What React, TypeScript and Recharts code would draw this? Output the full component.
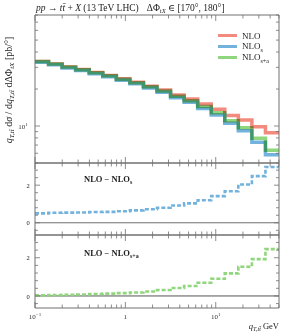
import React from "react";
import { LineChart, Line, XAxis, YAxis, ReferenceLine, Legend } from "recharts";

// bin edges in q_T (GeV), 18 log-uniform bins
const BIN_EDGES = [0.1, 0.1413, 0.1995, 0.2818, 0.3981, 0.5623, 0.7943, 1.122, 1.585, 2.239, 3.162, 4.467, 6.31, 8.913, 12.59, 17.78, 25.12, 35.48, 50.12];

const NLO = [33.5, 32.0, 30.2, 28.8, 27.2, 25.7, 24.2, 22.7, 21.1, 19.6, 17.9, 16.6, 15.1, 13.7, 12.2, 11.2, 9.87, 8.81];
const NLO_S = [33.0, 31.47, 29.66, 28.25, 26.63, 25.12, 23.59, 22.04, 20.38, 18.8, 16.98, 15.57, 13.9, 12.28, 10.52, 9.16, 7.39, 5.84];
const NLO_SA = [33.47, 31.95, 30.14, 28.72, 27.1, 25.58, 24.05, 22.52, 20.87, 19.29, 17.48, 16.08, 14.41, 12.8, 11.02, 9.67, 7.94, 6.36];
const DIFF_S = [0.5, 0.53, 0.54, 0.55, 0.57, 0.58, 0.61, 0.66, 0.72, 0.8, 0.92, 1.03, 1.2, 1.42, 1.68, 2.04, 2.48, 2.97];
const DIFF_SA = [0.03, 0.05, 0.06, 0.08, 0.1, 0.12, 0.15, 0.18, 0.23, 0.31, 0.42, 0.52, 0.69, 0.9, 1.18, 1.53, 1.93, 2.45];

const X_TICKS = [0.1, 0.2, 0.3, 0.4, 0.5, 0.6, 0.7, 0.8, 0.9, 1, 2, 3, 4, 5, 6, 7, 8, 9, 10, 20, 30, 40, 50];
const X_MAJOR = [0.1, 1, 10];
const Y_MAIN_TICKS = [5, 6, 7, 8, 9, 10, 20, 30, 40, 50, 60, 70, 80];
const Y_DIFF_TICKS = [-0.4, 0, 0.4, 0.8, 1.2, 1.6, 2, 2.4, 2.8];

const C_NLO = "#f28b7d";
const C_S = "#72b2dc";
const C_SA = "#8fd67c";
const FRAME = "#707070";
const SERIF = "'Liberation Serif', 'DejaVu Serif', serif";

const rows = BIN_EDGES.map((x, k) => {
  const i = Math.min(k, NLO.length - 1);
  return { x, nlo: NLO[i], s: NLO_S[i], sa: NLO_SA[i], ds: DIFF_S[i], dsa: DIFF_SA[i] };
});

const W = 288;
const PLOT_L = 34;
const PLOT_R = 8;

function Pow({ x, y, base, exp }: { x: number; y: number; base: string; exp?: string }) {
  return (
    <text x={x} y={y} textAnchor="middle" fontSize={7} fontFamily={SERIF} fill="#333">
      {base}
      {exp && (
        <tspan fontSize={5} dy={-3}>
          {exp}
        </tspan>
      )}
    </text>
  );
}

const xTick = (side: "bottom" | "top", labels: boolean) => (p: any) => {
  const v = p.payload.value;
  const major = X_MAJOR.includes(v);
  const len = major ? 6 : 3.5;
  const d = side === "bottom" ? -1 : 1;
  let lab = null;
  if (labels && major) {
    if (v === 0.1) lab = <Pow x={p.x} y={p.y + 11} base="10" exp="−1" />;
    else if (v === 1) lab = <Pow x={p.x} y={p.y + 11} base="1" />;
    else lab = <Pow x={p.x} y={p.y + 11} base="10" exp="1" />;
  }
  return (
    <g>
      <line x1={p.x} x2={p.x} y1={p.y} y2={p.y + d * len} stroke={FRAME} strokeWidth={0.8} />
      {lab}
    </g>
  );
};

const yTick = (side: "left" | "right", majors: number[]) => (p: any) => {
  const v = p.payload.value;
  const major = majors.some((m) => Math.abs(m - v) < 1e-9);
  const len = major ? 5 : 3;
  const d = side === "left" ? 1 : -1;
  return <line x1={p.x} x2={p.x + d * len} y1={p.y} y2={p.y} stroke={FRAME} strokeWidth={0.8} />;
};

const renderLegend = (props: any) => (
  <div style={{ fontFamily: SERIF, fontSize: 9, color: "#222" }}>
    {props.payload.map((e: any) => (
      <div key={e.value} style={{ display: "flex", alignItems: "center", height: 11 }}>
        <div style={{ width: 19, height: 3, background: e.color, marginRight: 5 }} />
        <span>
          {e.value === "NLOs" ? (
            <>
              NLO<sub style={{ fontSize: 6 }}>s</sub>
            </>
          ) : e.value === "NLOs+a" ? (
            <>
              NLO<sub style={{ fontSize: 6 }}>s+a</sub>
            </>
          ) : (
            e.value
          )}
        </span>
      </div>
    ))}
  </div>
);

function frameAxes(yProps: any, yTicks: number[], yMajors: number[], xLabels: boolean) {
  return [
    <XAxis key="xb" xAxisId="b" dataKey="x" type="number" scale="log" domain={[0.1, 50.12]} allowDataOverflow ticks={X_TICKS} interval={0} height={1} tickSize={0} tickMargin={0} tick={xTick("bottom", xLabels)} stroke={FRAME} />,
    <XAxis key="xt" xAxisId="t" orientation="top" dataKey="x" type="number" scale="log" domain={[0.1, 50.12]} allowDataOverflow ticks={X_TICKS} interval={0} height={1} tickSize={0} tickMargin={0} tick={xTick("top", false)} stroke={FRAME} />,
    <YAxis key="yl" yAxisId="l" {...yProps} allowDataOverflow ticks={yTicks} interval={0} width={1} tickSize={0} tickMargin={0} tick={yTick("left", yMajors)} stroke={FRAME} />,
    <YAxis key="yr" yAxisId="r" orientation="right" {...yProps} allowDataOverflow ticks={yTicks} interval={0} width={1} tickSize={0} tickMargin={0} tick={yTick("right", yMajors)} stroke={FRAME} />,
  ];
}

export default function App() {
  return (
    <div style={{ position: "absolute", left: 0, top: 0, width: W, height: 333, background: "#fff", fontFamily: SERIF, overflow: "hidden" }}>
      <div style={{ position: "absolute", left: 0, top: 0 }}>
        <LineChart width={W} height={164} data={rows} margin={{ top: 14, right: PLOT_R, bottom: 0, left: PLOT_L }}>
          {frameAxes({ type: "number", scale: "log", domain: [5, 80] }, Y_MAIN_TICKS, [10], false)}
          <Line xAxisId="b" yAxisId="l" type="stepAfter" dataKey="nlo" name="NLO" stroke={C_NLO} strokeWidth={3.5} dot={false} isAnimationActive={false} />
          <Line xAxisId="b" yAxisId="l" type="stepAfter" dataKey="s" name="NLOs" stroke={C_S} strokeWidth={3.5} dot={false} isAnimationActive={false} />
          <Line xAxisId="b" yAxisId="l" type="stepAfter" dataKey="sa" name="NLOs+a" stroke={C_SA} strokeWidth={3.5} dot={false} isAnimationActive={false} style={{ mixBlendMode: "multiply" }} />
          <Legend layout="vertical" align="center" verticalAlign="middle" content={renderLegend} wrapperStyle={{ position: "absolute", left: 218, top: 30, width: 70 }} />
        </LineChart>
      </div>
      <div style={{ position: "absolute", left: 0, top: 162 }}>
        <LineChart width={W} height={74} data={rows} margin={{ top: 0, right: PLOT_R, bottom: 0, left: PLOT_L }}>
          {frameAxes({ type: "number", domain: [-0.65, 3.18] }, Y_DIFF_TICKS, [0, 2], false)}
          <ReferenceLine xAxisId="b" yAxisId="l" y={0} stroke={FRAME} strokeWidth={1} />
          <Line xAxisId="b" yAxisId="l" type="stepAfter" dataKey="ds" stroke={C_S} strokeWidth={2.6} strokeDasharray="4 2" dot={false} isAnimationActive={false} />
        </LineChart>
      </div>
      <div style={{ position: "absolute", left: 0, top: 234 }}>
        <LineChart width={W} height={99} data={rows} margin={{ top: 0, right: PLOT_R, bottom: 24, left: PLOT_L }}>
          {frameAxes({ type: "number", domain: [-0.63, 3.19] }, Y_DIFF_TICKS, [0, 2], true)}
          <ReferenceLine xAxisId="b" yAxisId="l" y={0} stroke="#555" strokeWidth={1} />
          <Line xAxisId="b" yAxisId="l" type="stepAfter" dataKey="dsa" stroke={C_SA} strokeWidth={2.6} strokeDasharray="4 2" dot={false} isAnimationActive={false} />
        </LineChart>
      </div>
      <svg width={W} height={333} style={{ position: "absolute", left: 0, top: 0, pointerEvents: "none" }} fontFamily={SERIF} fill="#222">
        <text x={36} y={11} fontSize={9.5}>
          <tspan fontStyle="italic">pp</tspan>
          <tspan> → </tspan>
          <tspan fontStyle="italic">tt̄</tspan>
          <tspan> + </tspan>
          <tspan fontStyle="italic">X</tspan>
          <tspan> (13 TeV LHC)</tspan>
          <tspan dx={8}>ΔΦ</tspan>
          <tspan fontStyle="italic" fontSize={6.5} dy={1.5}>tX</tspan>
          <tspan dy={-1.5}> ∈ [170°, 180°]</tspan>
        </text>
        <Pow x={23} y={129} base="10" exp="1" />
        <text x={28} y={188} fontSize={6.5} textAnchor="middle">2</text>
        <text x={28} y={225} fontSize={6.5} textAnchor="middle">0</text>
        <text x={28} y={260} fontSize={6.5} textAnchor="middle">2</text>
        <text x={28} y={298.5} fontSize={6.5} textAnchor="middle">0</text>
        <text transform="translate(12,90) rotate(-90)" fontSize={10} textAnchor="middle">
          <tspan fontStyle="italic">q</tspan>
          <tspan fontSize={7} dy={1.5} fontStyle="italic">T,tt̄</tspan>
          <tspan dy={-1.5}> d</tspan>
          <tspan fontStyle="italic">σ</tspan>
          <tspan> / d</tspan>
          <tspan fontStyle="italic">q</tspan>
          <tspan fontSize={7} dy={1.5} fontStyle="italic">T,tt̄</tspan>
          <tspan dy={-1.5}> dΔΦ</tspan>
          <tspan fontSize={7} dy={1.5} fontStyle="italic">tX</tspan>
          <tspan dy={-1.5}> [pb/°]</tspan>
        </text>
        <text x={84} y={182} fontSize={8.5} fontWeight="bold">
          NLO − NLO<tspan fontSize={6} dy={2}>s</tspan>
        </text>
        <text x={84} y={256} fontSize={8.5} fontWeight="bold">
          NLO − NLO<tspan fontSize={6} dy={2}>s+a</tspan>
        </text>
        <text x={279} y={329} fontSize={8.5} textAnchor="end">
          <tspan fontStyle="italic">q</tspan>
          <tspan fontSize={6} dy={1.5} fontStyle="italic">T,tt̄</tspan>
          <tspan dy={-1.5}> GeV</tspan>
        </text>
      </svg>
    </div>
  );
}
